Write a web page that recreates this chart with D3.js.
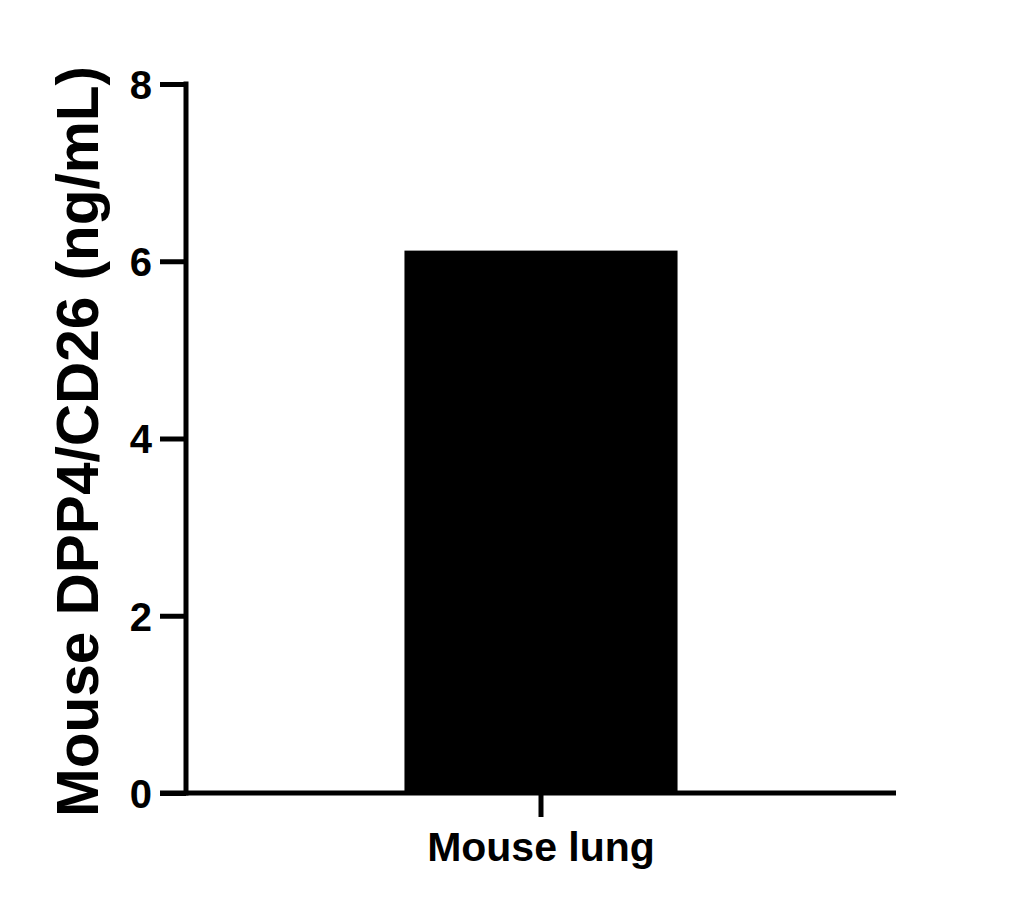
<!DOCTYPE html>
<html><head><meta charset="utf-8">
<script src="https://cdn.jsdelivr.net/npm/d3@7"></script>
<style>html,body{margin:0;padding:0;background:#fff;}</style>
</head><body>
<script>
const categories = ["Mouse lung"];
const values = [6.12];
const yTicks = [0, 2, 4, 6, 8];
const yTitle = "Mouse DPP4/CD26 (ng/mL)";

(function () {
const W = 1028, H = 910;
const svg = d3.select("body").append("svg").attr("width", W).attr("height", H);
const mLeft = 186, mRight = 896, mTop = 84, mBottom = 793;
const font = "'Liberation Sans', Arial, sans-serif";

const y = d3.scaleLinear().domain([0, 8]).range([mBottom, mTop]);
const x = d3.scaleBand().domain(categories).range([mLeft, mRight]).paddingInner(0).paddingOuter(0.8);

svg.selectAll("rect.bar").data(values).join("rect")
  .attr("class", "bar")
  .attr("x", (d, i) => x(categories[i]))
  .attr("width", x.bandwidth())
  .attr("y", d => y(d))
  .attr("height", d => y(0) - y(d))
  .attr("fill", "#000");

const yAxis = svg.append("g").attr("transform", `translate(${mLeft},0)`)
  .call(d3.axisLeft(y).tickValues(yTicks).tickSize(26).tickPadding(8).tickSizeOuter(0));
yAxis.select(".domain").attr("stroke", "#000").attr("stroke-width", 5).attr("d", `M0,${mBottom + 2.5}V${mTop - 2.5}`);
yAxis.selectAll(".tick line").attr("stroke", "#000").attr("stroke-width", 5);
yAxis.selectAll(".tick text").attr("font-family", font).attr("font-weight", "bold").attr("font-size", 40).attr("fill", "#000").attr("dy", "0.36em");

const xAxis = svg.append("g").attr("transform", `translate(0,${mBottom})`)
  .call(d3.axisBottom(x).tickSize(24).tickPadding(15).tickSizeOuter(0));
xAxis.select(".domain").attr("stroke", "#000").attr("stroke-width", 5).attr("d", `M${mLeft - 26},0H${mRight}`);
xAxis.selectAll(".tick line").attr("stroke", "#000").attr("stroke-width", 5);
xAxis.selectAll(".tick text").attr("font-family", font).attr("font-weight", "bold").attr("font-size", 41).attr("fill", "#000");

svg.append("text")
  .attr("transform", `translate(98,${(mTop + mBottom) / 2 + 3}) rotate(-90)`)
  .attr("text-anchor", "middle")
  .attr("font-family", font).attr("font-weight", "bold").attr("font-size", 58.5)
  .attr("fill", "#000")
  .text(yTitle);
})();
</script>
</body></html>
